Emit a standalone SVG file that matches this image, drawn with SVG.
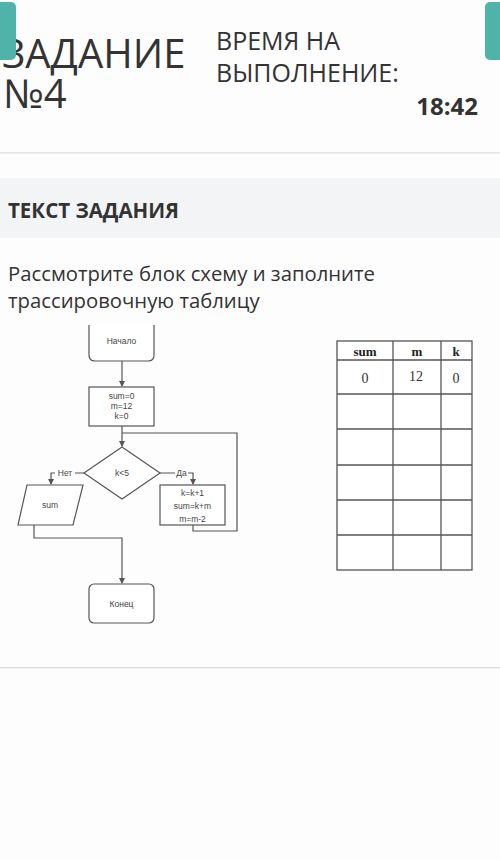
<svg xmlns="http://www.w3.org/2000/svg" width="500" height="860" viewBox="0 0 500 860">
<style>
.h{font-family:"Open Sans","Noto Sans",sans-serif;fill:#333;}
.fc{fill:#fff;stroke:#555;stroke-width:1.2;}
.ln{fill:none;stroke:#555;stroke-width:1.2;}
.ft{font-family:"Liberation Sans",Arial,sans-serif;font-size:8.5px;fill:#444;text-anchor:middle;}
.tb{fill:none;stroke:#555;stroke-width:1.3;}
.th{font-family:"Liberation Serif","Times New Roman",serif;font-weight:bold;font-size:13px;fill:#222;text-anchor:middle;}
.td{font-family:"Liberation Serif","Times New Roman",serif;font-size:14px;fill:#333;text-anchor:middle;}
</style>
<defs>
<marker id="ar" markerWidth="6" markerHeight="6" refX="5" refY="3" orient="auto" markerUnits="userSpaceOnUse">
<path d="M0,0 L6,3 L0,6 z" fill="#555"/>
</marker>
</defs>
<rect width="500" height="860" fill="#fdfdfd"/>
<g id="header">
<text class="h" x="2" y="68" font-size="40">ЗАДАНИЕ</text>
<text class="h" x="3" y="108" font-size="40">№4</text>
<rect x="-6" y="2" width="22" height="58" rx="5" fill="#4fb3a9"/>
<rect x="485" y="2" width="22" height="58" rx="5" fill="#4fb3a9"/>
<text class="h" x="216" y="50" font-size="25">ВРЕМЯ НА</text>
<text class="h" x="216" y="82" font-size="25">ВЫПОЛНЕНИЕ:</text>
<text class="h" x="478" y="115" font-size="24" font-weight="bold" text-anchor="end">18:42</text>
<rect x="0" y="152" width="500" height="1.5" fill="#e4e4e4"/>
<rect x="0" y="178" width="500" height="60" fill="#f3f4f6"/>
<text class="h" x="8" y="218" font-size="20.5" font-weight="bold">ТЕКСТ ЗАДАНИЯ</text>
<text class="h" x="8" y="281" font-size="20.3" fill="#444">Рассмотрите блок схему и заполните</text>
<text class="h" x="8" y="308" font-size="20.3" fill="#444">трассировочную таблицу</text>
<rect x="0" y="667" width="500" height="1.5" fill="#e0e0e0"/>
</g>
<g id="connectors">
<line class="ln" x1="122" y1="361" x2="122" y2="386" marker-end="url(#ar)"/>
<line class="ln" x1="122" y1="426" x2="122" y2="446" marker-end="url(#ar)"/>
<polyline class="ln" points="193,525 193,531 237,531 237,433 122,433"/>
<polyline class="ln" points="84,473 51,473 51,484" marker-end="url(#ar)"/>
<polyline class="ln" points="160,473 193,473 193,484" marker-end="url(#ar)"/>
<polyline class="ln" points="34,525 34,538 122,538 122,583" marker-end="url(#ar)"/>
<rect x="55" y="468" width="20" height="10" fill="#fff"/>
<text class="ft" x="65" y="476">Нет</text>
<rect x="175" y="468" width="13" height="10" fill="#fff"/>
<text class="ft" x="181.5" y="476">Да</text>
</g>
<g id="start">
<path class="fc" d="M89,325 V355 Q89,361 95,361 H148 Q154,361 154,355 V325"/>
<text class="ft" x="121.5" y="344">Начало</text>
</g>
<g id="init">
<rect class="fc" x="89" y="387" width="65" height="39"/>
<text class="ft" x="121.5" y="399">sum=0</text>
<text class="ft" x="121.5" y="409">m=12</text>
<text class="ft" x="121.5" y="419">k=0</text>
</g>
<g id="cond">
<polygon class="fc" points="122,447 160,473 122,499 84,473"/>
<text class="ft" x="122" y="476">k&lt;5</text>
</g>
<g id="output">
<polygon class="fc" points="27,485 83,485 73,525 18,525"/>
<text class="ft" x="50" y="508">sum</text>
</g>
<g id="body">
<rect class="fc" x="160" y="485" width="65" height="40"/>
<text class="ft" x="192.5" y="496">k=k+1</text>
<text class="ft" x="192.5" y="509">sum=k+m</text>
<text class="ft" x="192.5" y="522">m=m-2</text>
</g>
<g id="end">
<rect class="fc" x="89" y="584" width="65" height="39" rx="5"/>
<text class="ft" x="121.5" y="607">Конец</text>
</g>
<g id="table">
<rect x="337" y="341" width="135" height="229" fill="#fff"/>
<rect class="tb" x="337" y="341" width="135" height="229"/>
<line class="tb" x1="393" y1="341" x2="393" y2="570"/>
<line class="tb" x1="441" y1="341" x2="441" y2="570"/>
<line class="tb" x1="337" y1="360" x2="472" y2="360"/>
<line class="tb" x1="337" y1="394" x2="472" y2="394"/>
<line class="tb" x1="337" y1="429" x2="472" y2="429"/>
<line class="tb" x1="337" y1="465" x2="472" y2="465"/>
<line class="tb" x1="337" y1="500" x2="472" y2="500"/>
<line class="tb" x1="337" y1="535" x2="472" y2="535"/>
<text class="th" x="365" y="356">sum</text>
<text class="th" x="417" y="356">m</text>
<text class="th" x="456" y="356">k</text>
<text class="td" x="365" y="383">0</text>
<text class="td" x="416" y="381" font-family="Liberation Sans,Arial,sans-serif" font-size="13">12</text>
<text class="td" x="456" y="383">0</text>
</g>
</svg>
